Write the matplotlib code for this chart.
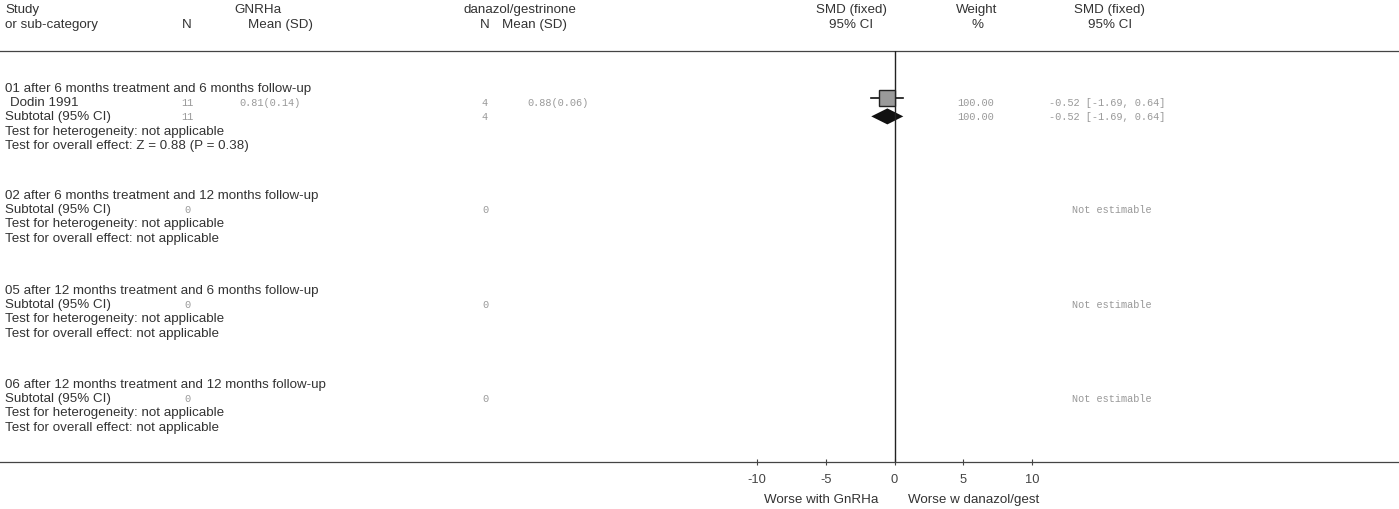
import matplotlib.pyplot as plt

# forest plot data (RevMan style, SMD fixed)
groups = ["01 after 6 months treatment and 6 months follow-up",
          "02 after 6 months treatment and 12 months follow-up",
          "05 after 12 months treatment and 6 months follow-up",
          "06 after 12 months treatment and 12 months follow-up"]
study_name = "Dodin 1991"
study_n1, study_mean1, study_sd1 = 11, 0.81, 0.14
study_n2, study_mean2, study_sd2 = 4, 0.88, 0.06
study_smd, study_lo, study_hi = -0.52, -1.69, 0.64
study_weight = 100.00
sub_n1 = [11, 0, 0, 0]
sub_n2 = [4, 0, 0, 0]
sub_weight = [100.00, None, None, None]
sub_smd = [-0.52, None, None, None]
sub_lo = [-1.69, None, None, None]
sub_hi = [0.64, None, None, None]
overall = ["Z = 0.88 (P = 0.38)", "not applicable", "not applicable", "not applicable"]
xticks = [-10, -5, 0, 5, 10]

W, H = 1399, 510
txt = dict(family=["Liberation Sans", "DejaVu Sans"], fontsize=9.6, color="#333333")
num = dict(family=["Liberation Mono", "DejaVu Sans Mono"], fontsize=7.4, color="#999999")

fig = plt.figure(figsize=(W / 100, H / 100), dpi=100)
lay = fig.add_axes([0, 0, 1, 1])
lay.set_xlim(0, W)
lay.set_ylim(H, 0)
lay.axis("off")

# column positions in pixels
x_study = 5
x_n1, x_mean1 = 187, 270
x_n2, x_mean2 = 485, 558
x_weight, x_ci = 976, 1107
y_top_rule, y_axis = 52, 463

# header
lay.text(x_study, 10, "Study", va="center", **txt)
lay.text(x_study, 25, "or sub-category", va="center", **txt)
lay.text(258, 10, "GNRHa", ha="center", va="center", **txt)
lay.text(x_n1, 25, "N", ha="center", va="center", **txt)
lay.text(281, 25, "Mean (SD)", ha="center", va="center", **txt)
lay.text(520, 10, "danazol/gestrinone", ha="center", va="center", **txt)
lay.text(x_n2, 25, "N", ha="center", va="center", **txt)
lay.text(535, 25, "Mean (SD)", ha="center", va="center", **txt)
lay.text(851, 10, "SMD (fixed)", ha="center", va="center", **txt)
lay.text(851, 25, "95% CI", ha="center", va="center", **txt)
lay.text(977, 10, "Weight", ha="center", va="center", **txt)
lay.text(977, 25, "%", ha="center", va="center", **txt)
lay.text(1110, 10, "SMD (fixed)", ha="center", va="center", **txt)
lay.text(1110, 25, "95% CI", ha="center", va="center", **txt)

lay.plot([0, W], [y_top_rule, y_top_rule], color="#444444", lw=0.9)
lay.plot([0, W], [y_axis, y_axis], color="#444444", lw=0.9)

# forest panel, x in SMD units
fp = fig.add_axes([757 / W, (H - y_axis) / H, 275 / W, (y_axis - y_top_rule) / H])
fp.set_xlim(-10, 10)
fp.set_ylim(y_axis, y_top_rule)
for s in ["top", "left", "right", "bottom"]:
    fp.spines[s].set_visible(False)
fp.set_yticks([])
fp.set_xticks(xticks)
fp.set_xticklabels([str(t) for t in xticks])
fp.tick_params(axis="x", direction="inout", length=4, width=0.8, color="#444444",
               labelsize=9.3, labelcolor="#444444", pad=6)
for lab in fp.get_xticklabels():
    lab.set_family(["Liberation Sans", "DejaVu Sans"])
fp.axvline(0, color="#222222", lw=1.0)
fp.patch.set_alpha(0)

group_y = [89, 196, 291, 385]
row = 14.2
for g, y0 in enumerate(group_y):
    lay.text(x_study, y0, groups[g], va="center", **txt)
    y = y0
    if g == 0:
        y += row
        lay.text(x_study + 5, y, study_name, va="center", **txt)
        lay.text(x_n1, y, str(study_n1), ha="center", va="center", **num)
        lay.text(x_mean1, y, f"{study_mean1:.2f}({study_sd1:.2f})", ha="center", va="center", **num)
        lay.text(x_n2, y, str(study_n2), ha="center", va="center", **num)
        lay.text(x_mean2, y, f"{study_mean2:.2f}({study_sd2:.2f})", ha="center", va="center", **num)
        lay.text(x_weight, y, f"{study_weight:.2f}", ha="center", va="center", **num)
        lay.text(x_ci, y, f"{study_smd:.2f} [{study_lo:.2f}, {study_hi:.2f}]",
                 ha="center", va="center", **num)
        fp.plot([study_lo, study_hi], [y - 4, y - 4], color="#111111", lw=1.2)
        fp.plot([study_smd], [y - 4], marker="s", markersize=12, markerfacecolor="#9a9a9a",
                markeredgecolor="#222222", markeredgewidth=1.0, linestyle="none")
    y += row
    lay.text(x_study, y, "Subtotal (95% CI)", va="center", **txt)
    lay.text(x_n1, y, str(sub_n1[g]), ha="center", va="center", **num)
    lay.text(x_n2, y, str(sub_n2[g]), ha="center", va="center", **num)
    if sub_smd[g] is not None:
        lay.text(x_weight, y, f"{sub_weight[g]:.2f}", ha="center", va="center", **num)
        lay.text(x_ci, y, f"{sub_smd[g]:.2f} [{sub_lo[g]:.2f}, {sub_hi[g]:.2f}]",
                 ha="center", va="center", **num)
        fp.fill([sub_lo[g], sub_smd[g], sub_hi[g], sub_smd[g]], [y, y - 8, y, y + 8],
                color="#111111", lw=0)
    else:
        lay.text(1112, y, "Not estimable", ha="center", va="center", **num)
    y += row
    lay.text(x_study, y, "Test for heterogeneity: not applicable", va="center", **txt)
    y += row
    lay.text(x_study, y, "Test for overall effect: " + overall[g], va="center", **txt)

lay.text(878, 500, "Worse with GnRHa", ha="right", va="center", **txt)
lay.text(908, 500, "Worse w danazol/gest", ha="left", va="center", **txt)

fig.savefig("out.png", dpi=100)
